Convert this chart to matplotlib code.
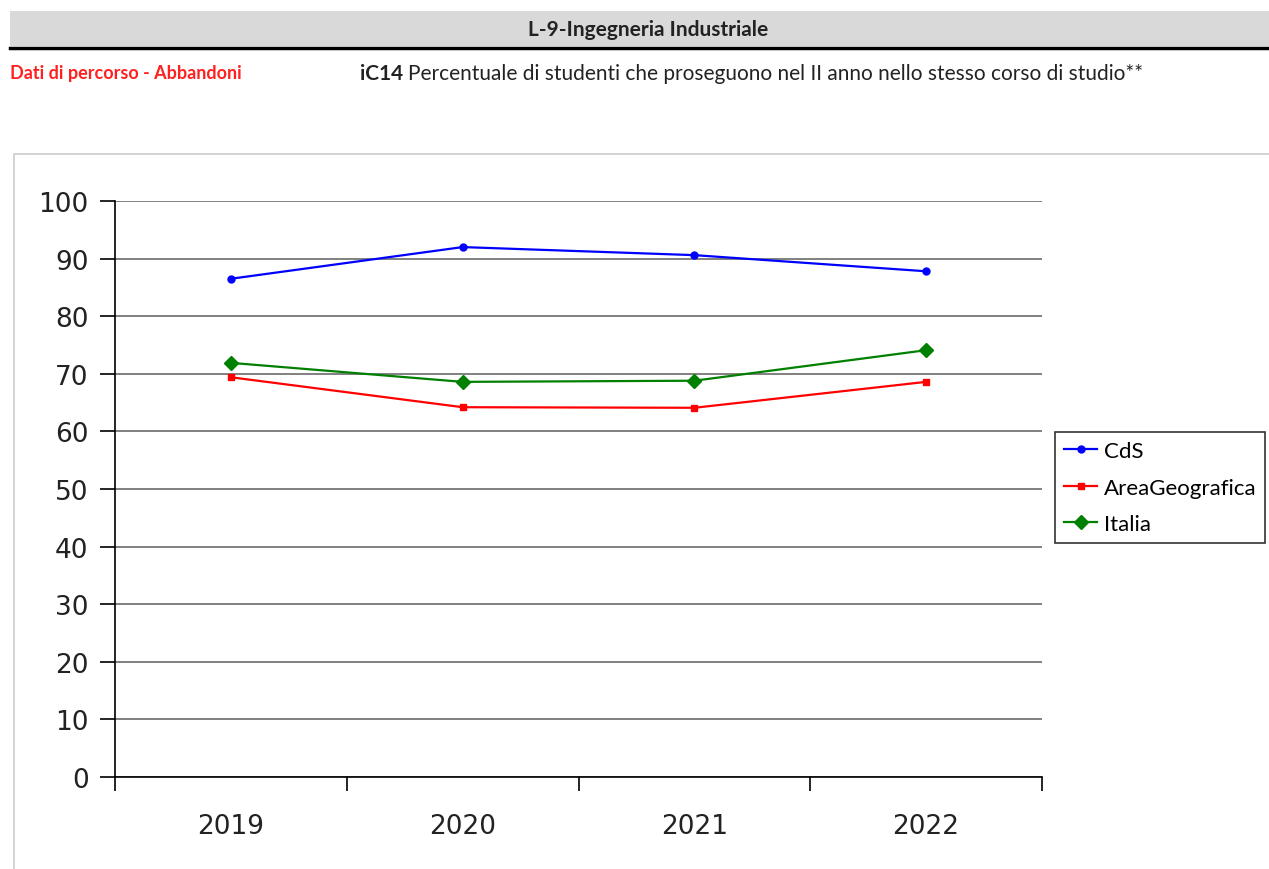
"""iC14 - Percentuale di studenti che proseguono nel II anno (L-9)."""

import matplotlib
matplotlib.use("Agg")
import matplotlib.pyplot as plt
from matplotlib.patches import Rectangle
from matplotlib.lines import Line2D

# Dati -----------------------------------------------------------------------
anni = ["2019", "2020", "2021", "2022"]
cds = [86.5, 92.0, 90.6, 87.8]
area_geografica = [69.4, 64.2, 64.1, 68.6]
italia = [71.9, 68.6, 68.8, 74.1]
y_ticks = [0, 10, 20, 30, 40, 50, 60, 70, 80, 90, 100]

W, H = 1269, 870
fig = plt.figure(figsize=(W / 100, H / 100), dpi=100)
fig.patch.set_facecolor("white")


def fx(px):
    return px / W


def fy(py):
    return 1 - py / H


# Intestazione ---------------------------------------------------------------
fig.patches.append(Rectangle((fx(10), fy(47)), fx(W - 10), 35 / H,
                             transform=fig.transFigure, facecolor="#d9d9d9",
                             edgecolor="none", zorder=0))
fig.add_artist(Line2D([fx(10), 1], [fy(49), fy(49)], transform=fig.transFigure,
                      color="black", lw=2.5))
fig.text(fx(648), fy(30), "L-9-Ingegneria Industriale", ha="center", va="center",
         fontsize=15, fontweight="bold", family="Lato", color="#222222")
fig.text(fx(10), fy(73), "Dati di percorso - Abbandoni", ha="left", va="center",
         fontsize=13, fontweight="bold", family="Lato", color="#ff2020")
t = fig.text(fx(360), fy(74), "iC14", ha="left", va="center",
             fontsize=15, fontweight="bold", family="Lato", color="#222222")
fig.canvas.draw()
bb = t.get_window_extent()
fig.text(bb.x1 / W + 0.004, fy(74),
         "Percentuale di studenti che proseguono nel II anno nello stesso corso di studio**",
         ha="left", va="center", fontsize=15, family="Lato", color="#222222")

# Cornice del grafico
fig.patches.append(Rectangle((fx(14), -0.01), 1.0, fy(155) + 0.01,
                             transform=fig.transFigure, facecolor="none",
                             edgecolor="#cccccc", lw=1.2, zorder=0))

# Grafico --------------------------------------------------------------------
ax = fig.add_axes([fx(115), 92 / H, fx(1042 - 115), (778 - 202) / H])
x = range(len(anni))
ax.plot(x, cds, color="#0000ff", lw=1.6, marker="o", ms=5, label="CdS")
ax.plot(x, area_geografica, color="#ff0000", lw=1.6, marker="s", ms=5,
        label="AreaGeografica")
ax.plot(x, italia, color="#008000", lw=1.6, marker="D", ms=7, label="Italia")

ax.set_xlim(-0.5, len(anni) - 0.5)
ax.set_ylim(0, 100)
ax.set_yticks(y_ticks)
ax.set_xticks(list(x))
ax.set_xticklabels(anni)
ax.set_xticks([i - 0.5 for i in range(len(anni) + 1)], minor=True)
ax.tick_params(axis="x", which="major", length=0, pad=26, labelsize=19,
               labelcolor="#222222")
ax.tick_params(axis="x", which="minor", length=10, width=1.2, color="black")
ax.tick_params(axis="y", length=11, width=1.2, color="black", labelsize=19,
               labelcolor="#222222", pad=8)
ax.grid(axis="y", color="#808080", lw=1.4)
ax.set_axisbelow(True)
for s in ("top", "right"):
    ax.spines[s].set_visible(False)
for s in ("left", "bottom"):
    ax.spines[s].set_color("black")
    ax.spines[s].set_linewidth(1.2)

leg = fig.legend(loc="upper left", bbox_to_anchor=(fx(1055), fy(433)),
                 bbox_transform=fig.transFigure, borderaxespad=0,
                 fancybox=False, framealpha=1, edgecolor="#333333",
                 prop={"family": "Lato", "size": 16}, handlelength=1.5,
                 handletextpad=0.3, labelspacing=0.75, borderpad=0.4)
leg.get_frame().set_linewidth(1.2)

fig.savefig("out.png", dpi=100)
